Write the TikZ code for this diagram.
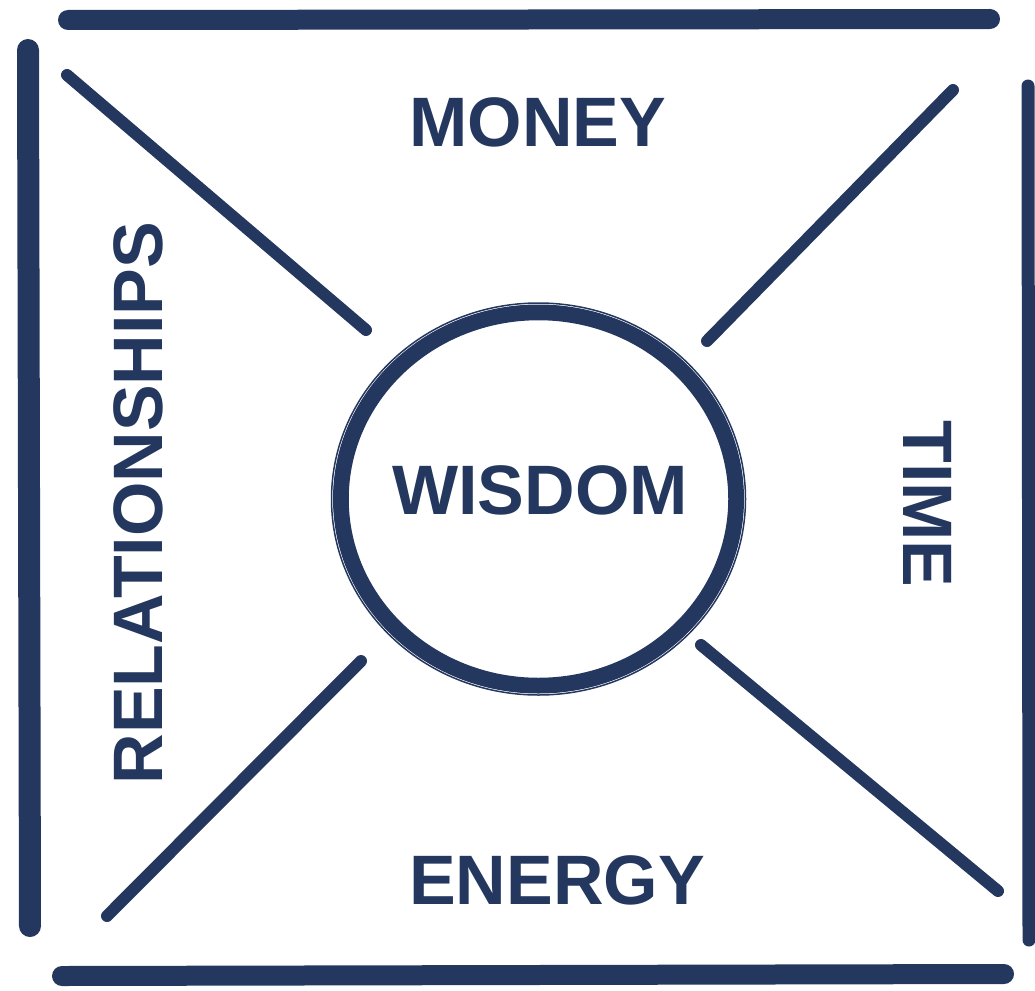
\documentclass[tikz,border=0pt]{standalone}
\usepackage{fontspec}
\setmainfont{Liberation Sans}
\definecolor{navy}{RGB}{36,55,94}

\tikzset{
    frame stroke/.style={
        draw=navy,line width=20pt,line cap=round
    },
    brush line/.style={
        draw=navy,line width=12pt,line cap=round
    },
    word/.style={
        text=navy,inner sep=0pt,
        font=\fontsize{70}{70}\selectfont\bfseries
    }
}

\begin{document}
\begin{tikzpicture}[x=1pt,y=-1pt]
        \useasboundingbox (0,0) rectangle (1035,990);
        % frame
        \draw[frame stroke] (68,20) -- (990,19);
        \draw[frame stroke,line width=22pt] (28,50) -- (30,926);
        \draw[frame stroke,line width=13pt] (1028,86) -- (1029,940);
        \draw[frame stroke] (62,976) -- (1004,974);
        % centre
        \coordinate (ctr) at (538.5,499);
        \foreach \dr/\w in {0/14,6/3,-7/2.5,9/1.5}
            \draw[navy,line width=\w pt] (ctr) ellipse ({198+\dr} and {187+\dr});
        \draw[navy,line width=6pt] ([yshift=-4pt]ctr) ellipse (197 and 187);
        \draw[navy,line width=5pt] ([xshift=3pt]ctr) ellipse (198 and 186);
        \node[word] (wisdom) at (540,490) {WISDOM};
        % spokes
        \coordinate (tl) at (67,75);
        \coordinate (tr) at (953,90);
        \coordinate (bl) at (107,916);
        \coordinate (br) at (998,891);
        \coordinate (tl') at (366,330);
        \coordinate (tr') at (707,341);
        \coordinate (bl') at (361,661);
        \coordinate (br') at (701,645);
        \foreach \c in {tl,tr,bl,br}
            \draw[brush line] (\c) -- (\c');
        % words
        \node[word] (money) at (538,122) {MONEY};
        \node[word] (energy) at (557,880) {ENERGY};
        \node[word,rotate=-90] (time) at (928,504) {TIME};
        \node[word,rotate=90] (rel) at (138,503) {RELATIONSHIPS};
    \end{tikzpicture}
\end{document}
